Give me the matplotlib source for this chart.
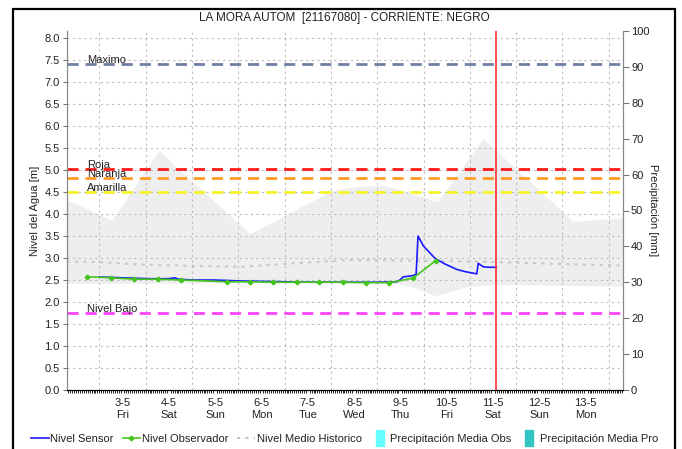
import matplotlib
matplotlib.use("Agg")
import matplotlib.pyplot as plt
from matplotlib.lines import Line2D
from matplotlib.patches import Rectangle
import numpy as np

plt.rcParams['font.family'] = ['Liberation Sans', 'DejaVu Sans']

title = "LA MORA AUTOM  [21167080] - CORRIENTE: NEGRO"

# x in days of May
tick_days = [3, 4, 5, 6, 7, 8, 9, 10, 11, 12, 13]
tick_labels = ["3-5\nFri", "4-5\nSat", "5-5\nSun", "6-5\nMon", "7-5\nTue", "8-5\nWed",
               "9-5\nThu", "10-5\nFri", "11-5\nSat", "12-5\nSun", "13-5\nMon"]

# historical band (min / max)
band_up_x = [1.795, 2.77, 3.79, 5.75, 7.48, 7.9, 8.63, 9.81, 10.78, 12.73, 13.80]
band_up_y = [4.32, 3.86, 5.44, 3.55, 4.51, 4.61, 4.66, 4.28, 5.72, 3.83, 3.92]
band_lo_x = [1.795, 4.0, 7.7, 8.95, 9.36, 9.75, 10.43, 11.08, 13.80]
band_lo_y = [2.42, 2.43, 2.45, 2.42, 2.31, 2.14, 2.35, 2.40, 2.36]

# historical mean level
medio_x = [1.795, 2.5, 3.2, 4.5, 5.6, 6.7, 7.8, 8.4, 10.7, 13.3, 13.80]
medio_y = [2.92, 2.91, 2.86, 2.82, 2.80, 2.88, 2.95, 2.95, 2.92, 2.84, 2.83]

# sensor level
sensor_x = [2.5, 2.75, 3.0, 3.3, 3.6, 4.0, 4.13, 4.2, 4.5, 5.0, 5.25, 5.5, 6.0, 6.5,
            7.0, 7.5, 8.0, 8.5, 8.92, 8.99, 9.06, 9.27, 9.34, 9.38, 9.5, 9.75, 9.97,
            10.22, 10.4, 10.65, 10.68, 10.79, 10.9, 11.07]
sensor_y = [2.57, 2.56, 2.55, 2.54, 2.53, 2.53, 2.55, 2.52, 2.50, 2.50, 2.49, 2.48, 2.47, 2.46,
            2.45, 2.45, 2.45, 2.45, 2.46, 2.50, 2.57, 2.60, 2.63, 3.50, 3.27, 2.99, 2.86,
            2.74, 2.69, 2.64, 2.88, 2.80, 2.79, 2.79]

# observer level
obs_x = [2.24, 2.75, 3.25, 3.76, 4.26, 5.26, 5.75, 6.26, 6.76, 7.25, 7.75, 8.26, 8.76, 9.27, 9.76]
obs_y = [2.576, 2.55, 2.52, 2.52, 2.50, 2.46, 2.46, 2.45, 2.45, 2.45, 2.45, 2.44, 2.44, 2.54, 2.94]

# thresholds
thr_names = ["Maximo", "Roja", "Naranja", "Amarilla", "Nivel Bajo"]
thr_values = [7.42, 5.02, 4.82, 4.51, 1.76]
thr_colors = ["#6e7fa6", "#ff1a1a", "#ff9a22", "#f4f428", "#ff44ff"]

now_day = 11.07

W, H = 682, 449
fig = plt.figure(figsize=(W / 100, H / 100), dpi=100)
L, R, T, B = 66.7, 622.7, 31, 390
ax = fig.add_axes([L / W, 1 - B / H, (R - L) / W, (B - T) / H])
ax2 = ax.twinx()

# band
bx = np.linspace(1.795, 13.80, 600)
up = np.interp(bx, band_up_x, band_up_y)
lo = np.interp(bx, band_lo_x, band_lo_y)
ax.fill_between(bx, lo, up, color="#eeeeee", lw=0, zorder=1)

# grid
grid_kw = dict(color="#bdbdbd", lw=0.8, ls=(0, (2, 3)), zorder=2)
for yv in np.arange(0.5, 8.01, 0.5):
    ax.axhline(yv, **grid_kw)
for xv in np.arange(2.5, 13.6, 1.0):
    ax.axvline(xv, **grid_kw)

ax.plot(medio_x, medio_y, color="#c8c8c8", lw=1.5, ls=(0, (1.5, 2.5)), zorder=3)

for n, v, c in zip(thr_names, thr_values, thr_colors):
    ax.axhline(v, color=c, lw=2, ls=(0, (4, 2.5)), zorder=4)
    ax.text(2.24, v + 0.02, n, fontsize=8, color="#222222", va="baseline", ha="left", zorder=6)

ax.plot(sensor_x, sensor_y, color="#1a1aff", lw=1.2, zorder=5)
ax.plot(obs_x, obs_y, color="#44c41c", lw=1.2, marker="P", ms=3, zorder=5)

ax.axvline(now_day, color="#ff2020", lw=1.1, zorder=6)

ax.set_xlim(1.795, 13.80)
ax.set_ylim(0, 8.16)
ax2.set_ylim(0, 100)

ax.set_yticks(np.arange(0, 8.01, 0.5))
ax.set_yticklabels([f"{v:.1f}" for v in np.arange(0, 8.01, 0.5)])
ax2.set_yticks(np.arange(0, 101, 10))

ax.set_xticks(tick_days)
ax.set_xticklabels(tick_labels, linespacing=1.15)
ax.set_xticks(np.arange(1.8334, 13.80, 1 / 24), minor=True)
ax.tick_params(axis="x", which="major", length=0, labelsize=8, pad=6, colors="#222222")
ax.tick_params(axis="x", which="minor", length=2, width=0.6, color="black")
ax.tick_params(axis="y", length=3, labelsize=8, color="#777777", labelcolor="#222222", pad=2)
ax2.tick_params(axis="y", length=4, labelsize=8, color="#777777", labelcolor="#222222", pad=2)

for a in (ax, ax2):
    a.spines["top"].set_visible(False)
    a.spines["left"].set_color("#888888")
    a.spines["right"].set_color("#888888")
    a.spines["bottom"].set_color("black")

ax.set_ylabel("Nivel del Agua [m]", fontsize=8, color="#222222", labelpad=3)
ax2.set_ylabel("Precipitación [mm]", fontsize=8, color="#222222", rotation=270, labelpad=6)

fig.text(0.505, 1 - 18 / H, title, ha="center", va="center", fontsize=8.5, color="#222222")

# outer frame
fig.patches.append(Rectangle((13 / W, -0.05), (675 - 13) / W, 1.05 - 9 / H,
                             transform=fig.transFigure, fill=False, ec="black", lw=1.6))

rect = [(-1, -2), (1, -2), (1, 2), (-1, 2), (-1, -2)]
handles = [
    Line2D([], [], color="#1a1aff", lw=1.2),
    Line2D([], [], color="#44c41c", lw=1.2, marker="P", ms=3),
    Line2D([], [], color="#c8c8c8", lw=1.5, ls=(0, (1.5, 2.5))),
    Line2D([], [], color="#66ffff", marker=rect, ms=12, ls="none"),
    Line2D([], [], color="#33c4c4", marker=rect, ms=12, ls="none"),
]
labels = ["Nivel Sensor", "Nivel Observador", "Nivel Medio Historico",
          "Precipitación Media Obs", "Precipitación Media Pro"]
fig.legend(handles, labels, loc="center", bbox_to_anchor=(0.505, 1 - 439 / H), ncol=5,
           frameon=False, fontsize=8, handlelength=1.6, handletextpad=0.15,
           columnspacing=0.8, labelcolor="#222222")

fig.savefig("out.png", dpi=100)
